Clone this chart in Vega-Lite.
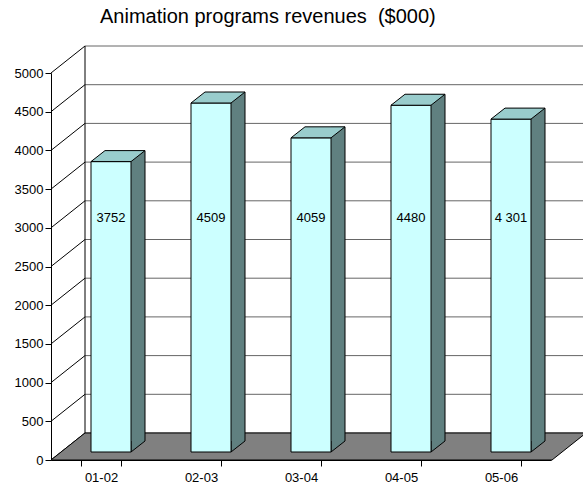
{
  "$schema": "https://vega.github.io/schema/vega-lite/v6.json",
  "width": 500,
  "height": 387,
  "autosize": "none",
  "padding": {"left": 51, "top": 73, "right": 32, "bottom": 27},
  "background": "white",
  "title": {
    "text": "Animation programs revenues \u00a0($000)",
    "anchor": "start",
    "frame": "group",
    "dx": 49,
    "offset": 17,
    "fontSize": 20,
    "fontWeight": "normal",
    "font": "Liberation Sans",
    "color": "black"
  },
  "config": {
    "view": {"stroke": null},
    "axis": {"labelFont": "Liberation Sans", "labelColor": "black", "domainColor": "black", "tickColor": "black"},
    "axisY": {"tickCount": 10, "format": "d", "labelOverlap": false, "grid": false, "tickSize": 6, "labelFontSize": 13, "labelPadding": 2, "title": null}
  },
  "datasets": {
    "grid": [{"v": 0}, {"v": 500}, {"v": 1000}, {"v": 1500}, {"v": 2000}, {"v": 2500}, {"v": 3000}, {"v": 3500}, {"v": 4000}, {"v": 4500}, {"v": 5000}],
    "rev": [
      {"period": "01-02", "revenue": 3752, "label": "3752"},
      {"period": "02-03", "revenue": 4509, "label": "4509"},
      {"period": "03-04", "revenue": 4059, "label": "4059"},
      {"period": "04-05", "revenue": 4480, "label": "4480"},
      {"period": "05-06", "revenue": 4301, "label": "4 301"}
    ]
  },
  "resolve": {"scale": {"x": "independent"}, "axis": {"x": "independent"}},
  "layer": [
    {
      "layer": [
        {
          "data": {"name": "grid"},
          "mark": {"type": "rule", "color": "#666666", "strokeWidth": 1, "xOffset": 34, "x2Offset": 34, "yOffset": -27},
          "encoding": {
            "x": {"datum": 0, "type": "quantitative", "scale": {"domain": [0, 5], "nice": false}, "axis": null},
            "x2": {"datum": 5},
            "y": {"field": "v", "type": "quantitative", "scale": {"domain": [0, 5000], "nice": false}, "axis": {"title": null}}
          }
        },
        {
          "data": {"name": "grid"},
          "mark": {"type": "point", "shape": "M-1,0.794L1,-0.794", "size": 1156, "filled": false, "stroke": "black", "strokeWidth": 1, "opacity": 1, "xOffset": 17, "yOffset": -13.5},
          "encoding": {
            "x": {"datum": 0, "type": "quantitative"},
            "y": {"field": "v", "type": "quantitative"}
          }
        },
        {
          "data": {"values": [{}]},
          "mark": {"type": "rule", "color": "black", "strokeWidth": 1, "xOffset": 34, "yOffset": -27, "y2Offset": -27},
          "encoding": {
            "x": {"datum": 0, "type": "quantitative"},
            "y": {"datum": 0, "type": "quantitative"},
            "y2": {"datum": 5000}
          }
        },
        {
          "data": {"values": [{}]},
          "mark": {"type": "point", "shape": "M-1,0.0505L0.8729,0.0505L1,-0.0505L-0.8729,-0.0505Z", "size": 286225, "filled": true, "fill": "#808080", "stroke": "black", "strokeWidth": 1, "opacity": 1, "xOffset": 17.5, "yOffset": -13.5},
          "encoding": {
            "x": {"datum": 2.5, "type": "quantitative"},
            "y": {"datum": 0, "type": "quantitative"}
          }
        }
      ]
    },
    {
      "data": {"name": "rev"},
      "encoding": {
        "x": {
          "field": "period",
          "type": "nominal",
          "sort": null,
          "scale": {"paddingInner": 0.6, "paddingOuter": 0.3},
          "axis": {"orient": "bottom", "title": null, "labelAngle": 0, "tickBand": "extent", "tickSize": 6, "labelFontSize": 13, "labelPadding": 5, "grid": false, "domain": true}
        }
      },
      "layer": [
        {
          "mark": {"type": "bar", "width": 14, "xOffset": 37, "x2Offset": 37, "yOffset": -19, "y2Offset": -19, "fill": "#608080", "strokeWidth": 0},
          "encoding": {
            "y": {"field": "revenue", "type": "quantitative"}
          }
        },
        {
          "mark": {"type": "point", "shape": "M0,-0.7857L0,0L1,-0.7857", "size": 784, "filled": true, "fill": "#608080", "stroke": "black", "strokeWidth": 1, "opacity": 1, "xOffset": 30, "yOffset": -8},
          "encoding": {
            "y": {"datum": 0, "type": "quantitative"}
          }
        },
        {
          "mark": {"type": "rule", "color": "black", "strokeWidth": 1, "xOffset": 44, "yOffset": -19, "y2Offset": -19},
          "encoding": {
            "y": {"field": "revenue", "type": "quantitative"},
            "y2": {"datum": 0}
          }
        },
        {
          "mark": {"type": "bar", "xOffset": 10, "x2Offset": 10, "yOffset": -8, "y2Offset": -8, "fill": "#CCFFFF", "stroke": "black", "strokeWidth": 1},
          "encoding": {
            "y": {"field": "revenue", "type": "quantitative"}
          }
        },
        {
          "mark": {"type": "point", "shape": "M-1,0.2037L0.4815,0.2037L1,-0.2037L-0.4815,-0.2037Z", "size": 2916, "filled": true, "fill": "#99CCCC", "stroke": "black", "strokeWidth": 1, "opacity": 1, "xOffset": 17, "yOffset": -13.5},
          "encoding": {
            "y": {"field": "revenue", "type": "quantitative"}
          }
        },
        {
          "mark": {"type": "text", "xOffset": 10, "yOffset": -8, "fontSize": 13, "font": "Liberation Sans", "color": "black", "baseline": "middle", "align": "center"},
          "encoding": {
            "y": {"datum": 3020, "type": "quantitative"},
            "text": {"field": "label", "type": "nominal"}
          }
        }
      ]
    }
  ]
}
